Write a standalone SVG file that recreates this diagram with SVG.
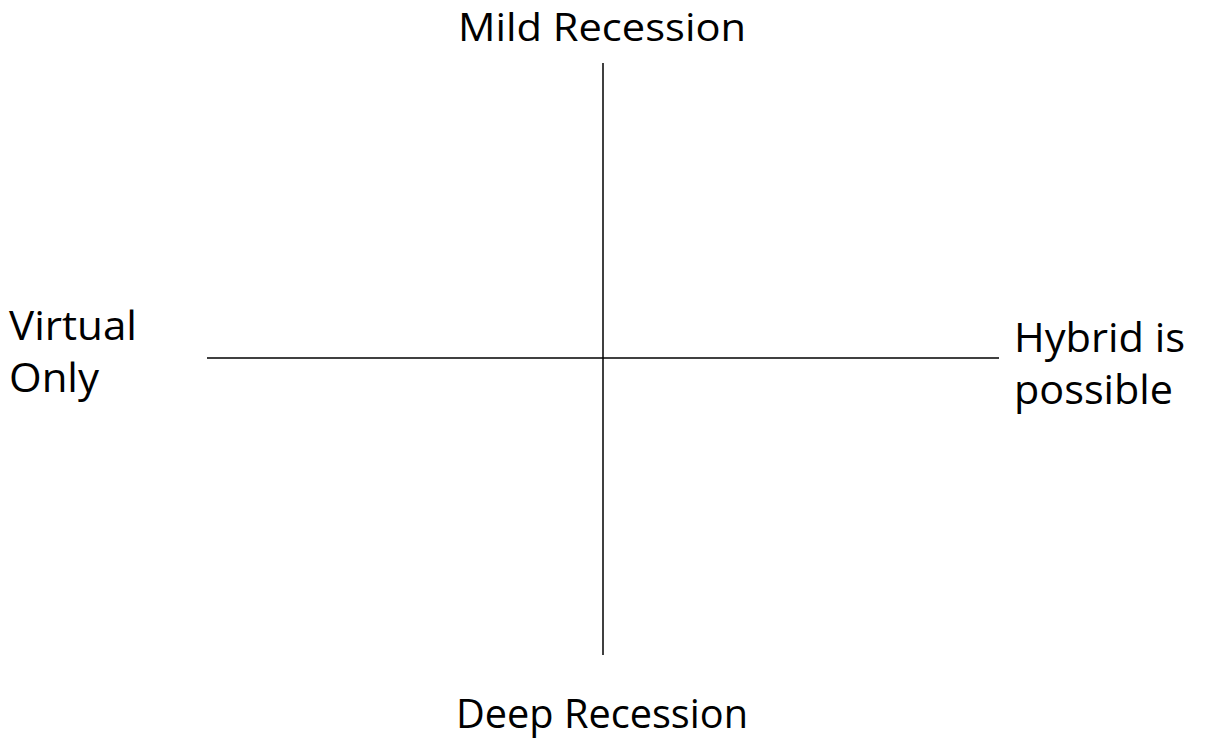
<svg xmlns="http://www.w3.org/2000/svg" width="1219" height="742" viewBox="0 0 1219 742">
<style>
.t{font-family:"Open Sans","Liberation Sans",sans-serif;font-size:41px;fill:#000}
.ax{stroke:#000;stroke-width:1.5;fill:none}
</style>
<rect width="1219" height="742" fill="#fff"/>
<g id="connectors">
<line class="ax" x1="603" y1="63" x2="603" y2="655"/>
<line class="ax" x1="207" y1="358" x2="999" y2="358"/>
</g>
<g id="top"><text class="t" x="458" y="41" style="font-size:38px" textLength="288" lengthAdjust="spacingAndGlyphs">Mild Recession</text></g>
<g id="bottom"><text class="t" x="456" y="728" textLength="292" lengthAdjust="spacingAndGlyphs">Deep Recession</text></g>
<g id="left"><text class="t" x="9" y="340" textLength="128" lengthAdjust="spacingAndGlyphs">Virtual</text><text class="t" x="9" y="392" textLength="90" lengthAdjust="spacingAndGlyphs">Only</text></g>
<g id="right"><text class="t" x="1014" y="352" textLength="171" lengthAdjust="spacingAndGlyphs">Hybrid is</text><text class="t" x="1014" y="404" textLength="159" lengthAdjust="spacingAndGlyphs">possible</text></g>
</svg>
